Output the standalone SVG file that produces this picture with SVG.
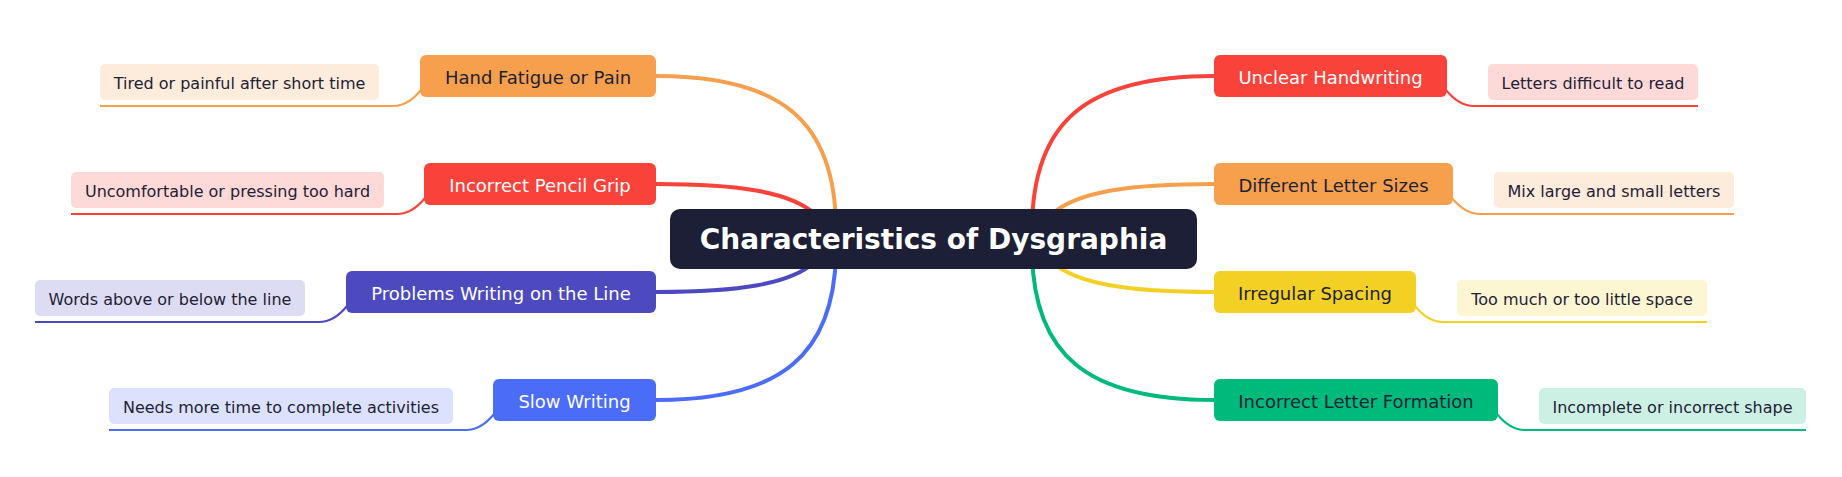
<svg xmlns="http://www.w3.org/2000/svg" width="1842" height="477" viewBox="0 0 1842 477">
<style>
text{font-family:"DejaVu Sans","Liberation Sans",sans-serif;dominant-baseline:central;text-anchor:middle}
.root-t{font-size:28px;font-weight:bold;fill:#ffffff}
.br-t{font-size:18px}
.lf-t{font-size:16px;fill:#1e2235}
.dark{fill:#1e2235}
.light{fill:#ffffff}
.main{fill:none;stroke-width:4;stroke-linecap:round}
.sub{fill:none;stroke-width:2}
</style>
<rect width="1842" height="477" fill="#ffffff"/>
<g id="connectors">
<path class="main" stroke="#F6A04D" d="M656,76 C780,76 836,120 836,230"/>
<path class="main" stroke="#F9423A" d="M656,184 C740,184 790,192 815,214"/>
<path class="main" stroke="#4C4ABE" d="M656,292 C740,292 790,284 815,262"/>
<path class="main" stroke="#4A6CF7" d="M656,400 C780,400 836,356 836,248"/>
<path class="main" stroke="#F9423A" d="M1214,76 C1088,76 1032,120 1032,230"/>
<path class="main" stroke="#F6A04D" d="M1214,184 C1127,184 1077,192 1052,214"/>
<path class="main" stroke="#F2D124" d="M1214,292 C1127,292 1077,284 1052,262"/>
<path class="main" stroke="#00BA7C" d="M1214,400 C1088,400 1032,356 1032,248"/>
<path class="sub" stroke="#F6A04D" d="M421,90 Q408,106 393,106 H100"/>
<path class="sub" stroke="#F9423A" d="M425,198 Q412,214 397,214 H71"/>
<path class="sub" stroke="#4C4ABE" d="M347,306 Q334,322 319,322 H35"/>
<path class="sub" stroke="#4A6CF7" d="M494,414 Q481,430 466,430 H109"/>
<path class="sub" stroke="#F9423A" d="M1446,90 Q1459,106 1474,106 H1698"/>
<path class="sub" stroke="#F6A04D" d="M1452,198 Q1465,214 1480,214 H1734"/>
<path class="sub" stroke="#F2D124" d="M1415,306 Q1428,322 1443,322 H1707"/>
<path class="sub" stroke="#00BA7C" d="M1497,414 Q1510,430 1525,430 H1806"/>
</g>
<g id="root">
<rect x="670" y="209" width="527" height="60" rx="10" fill="#1C1F35"/>
<text class="root-t" x="933.5" y="239">Characteristics of Dysgraphia</text>
</g>
<g id="hand-fatigue">
<rect x="420" y="55" width="236" height="42" rx="6" fill="#F6A04D"/>
<text class="br-t dark" x="538" y="77">Hand Fatigue or Pain</text>
</g>
<g id="hand-fatigue-leaf">
<rect x="100" y="64" width="279" height="36" rx="5" fill="#FDEBDB"/>
<text class="lf-t" x="239.5" y="83">Tired or painful after short time</text>
</g>
<g id="pencil-grip">
<rect x="424" y="163" width="232" height="42" rx="6" fill="#F9423A"/>
<text class="br-t light" x="540" y="185">Incorrect Pencil Grip</text>
</g>
<g id="pencil-grip-leaf">
<rect x="71" y="172" width="313" height="36" rx="5" fill="#FDD9D8"/>
<text class="lf-t" x="227.5" y="191">Uncomfortable or pressing too hard</text>
</g>
<g id="writing-line">
<rect x="346" y="271" width="310" height="42" rx="6" fill="#4C4ABE"/>
<text class="br-t light" x="501" y="293">Problems Writing on the Line</text>
</g>
<g id="writing-line-leaf">
<rect x="35" y="280" width="270" height="36" rx="5" fill="#DEDCF3"/>
<text class="lf-t" x="170" y="299">Words above or below the line</text>
</g>
<g id="slow-writing">
<rect x="493" y="379" width="163" height="42" rx="6" fill="#4A6CF7"/>
<text class="br-t light" x="574.5" y="401">Slow Writing</text>
</g>
<g id="slow-writing-leaf">
<rect x="109" y="388" width="344" height="36" rx="5" fill="#DCE2FD"/>
<text class="lf-t" x="281" y="407">Needs more time to complete activities</text>
</g>
<g id="unclear-handwriting">
<rect x="1214" y="55" width="233" height="42" rx="6" fill="#F9423A"/>
<text class="br-t light" x="1330.5" y="77">Unclear Handwriting</text>
</g>
<g id="unclear-handwriting-leaf">
<rect x="1488" y="64" width="210" height="36" rx="5" fill="#FDD9D8"/>
<text class="lf-t" x="1593" y="83">Letters difficult to read</text>
</g>
<g id="letter-sizes">
<rect x="1214" y="163" width="239" height="42" rx="6" fill="#F6A04D"/>
<text class="br-t dark" x="1333.5" y="185">Different Letter Sizes</text>
</g>
<g id="letter-sizes-leaf">
<rect x="1494" y="172" width="240" height="36" rx="5" fill="#FDEBDB"/>
<text class="lf-t" x="1614" y="191">Mix large and small letters</text>
</g>
<g id="irregular-spacing">
<rect x="1214" y="271" width="202" height="42" rx="6" fill="#F2D124"/>
<text class="br-t dark" x="1315" y="293">Irregular Spacing</text>
</g>
<g id="irregular-spacing-leaf">
<rect x="1457" y="280" width="250" height="36" rx="5" fill="#FCF6D3"/>
<text class="lf-t" x="1582" y="299">Too much or too little space</text>
</g>
<g id="letter-formation">
<rect x="1214" y="379" width="284" height="42" rx="6" fill="#00BA7C"/>
<text class="br-t dark" x="1356" y="401">Incorrect Letter Formation</text>
</g>
<g id="letter-formation-leaf">
<rect x="1539" y="388" width="267" height="36" rx="5" fill="#CCF1E4"/>
<text class="lf-t" x="1672.5" y="407">Incomplete or incorrect shape</text>
</g>
</svg>
